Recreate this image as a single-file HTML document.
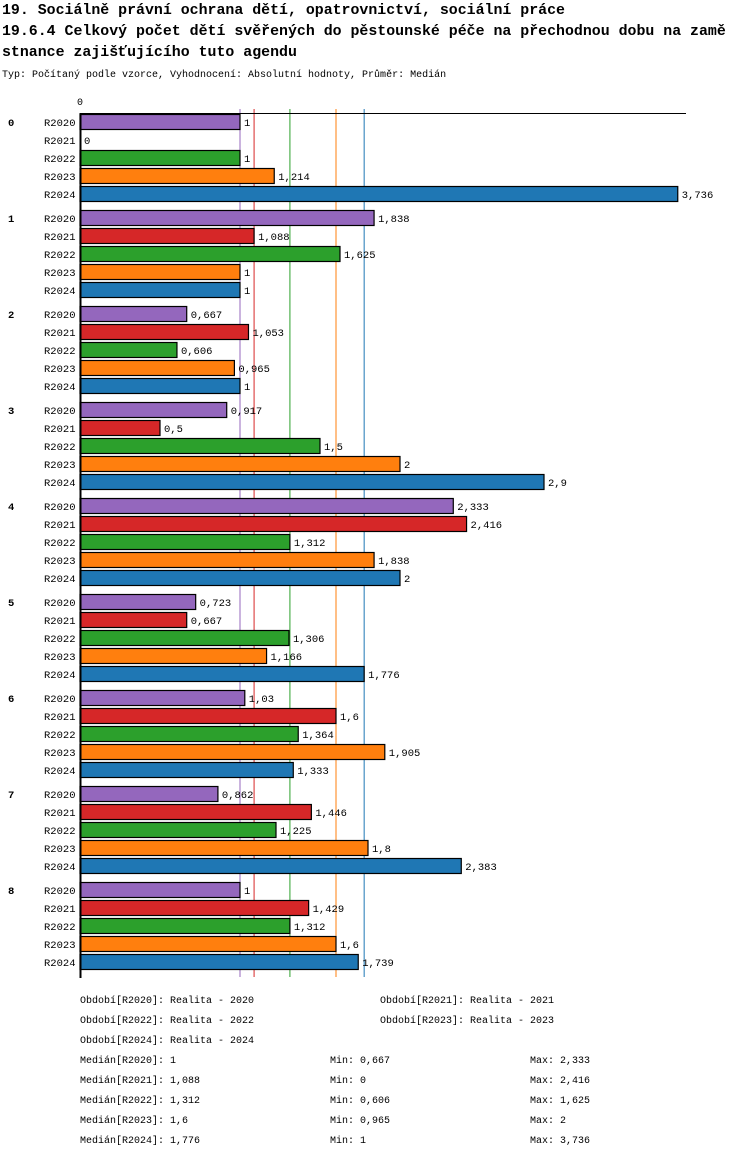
<!DOCTYPE html>
<html><head><meta charset="utf-8"><style>
body{margin:0;background:#fff;width:750px;height:1158px;overflow:hidden}
svg text{font-family:"Liberation Mono","DejaVu Sans Mono",monospace;fill:#000}
</style></head><body>
<svg id="chart" width="750" height="1158" xmlns="http://www.w3.org/2000/svg">
<text x="2" y="14" font-size="14.9" font-weight="bold">19. Sociálně právní ochrana dětí, opatrovnictví, sociální práce</text>
<text x="2" y="35" font-size="14.9" font-weight="bold">19.6.4 Celkový počet dětí svěřených do pěstounské péče na přechodnou dobu na zamě</text>
<text x="2" y="56" font-size="14.9" font-weight="bold">stnance zajišťujícího tuto agendu</text>
<text x="2" y="77" font-size="10">Typ: Počítaný podle vzorce, Vyhodnocení: Absolutní hodnoty, Průměr: Medián</text>
<g id="plot"></g>
<g id="legend"></g>
</svg>
<script>
const categories=["0","1","2","3","4","5","6","7","8"];
const seriesNames=["R2020","R2021","R2022","R2023","R2024"];
const colors=["#9467bd","#d62728","#2ca02c","#ff7f0e","#1f77b4"];
const r2020=[1,1.838,0.667,0.917,2.333,0.723,1.03,0.862,1];
const r2021=[0,1.088,1.053,0.5,2.416,0.667,1.6,1.446,1.429];
const r2022=[1,1.625,0.606,1.5,1.312,1.306,1.364,1.225,1.312];
const r2023=[1.214,1,0.965,2,1.838,1.166,1.905,1.8,1.6];
const r2024=[3.736,1,1,2.9,2,1.776,1.333,2.383,1.739];
const medians=[1,1.088,1.312,1.6,1.776];
const medianLabels=["1","1,088","1,312","1,6","1,776"];
const minLabels=["0,667","0","0,606","0,965","1"];
const maxLabels=["2,333","2,416","1,625","2","3,736"];
const periodLabels=["Realita - 2020","Realita - 2021","Realita - 2022","Realita - 2023","Realita - 2024"];
const series=[r2020,r2021,r2022,r2023,r2024];
const NS="http://www.w3.org/2000/svg";
const x0=80,pxPerUnit=160,groupTop=113,groupH=96,rowH=18;
const xs=v=>x0+v*pxPerUnit;
const rowY=(g,s)=>groupTop+g*groupH+s*rowH+9;
const fmt=v=>String(+v.toFixed(3)).replace('.',',');
const plot=document.getElementById('plot');
function mk(tag,attrs,parent){const e=document.createElementNS(NS,tag);for(const k in attrs)e.setAttribute(k,attrs[k]);parent.appendChild(e);return e;}
let t=mk('text',{x:xs(0)-3,y:105,'font-size':10},plot);t.textContent="0";


medians.forEach((m,i)=>{const l=mk('line',{x1:xs(m),x2:xs(m),y1:109,y2:977,stroke:colors[i],'stroke-width':1},plot);

});
let a=mk('line',{x1:80,x2:686,y1:113.5,y2:113.5,stroke:'#000'},plot);


categories.forEach((c,g)=>{
 const ct=mk('text',{x:8,y:rowY(g,0)+4,'font-size':10.5,'font-weight':'bold'},plot);ct.textContent=c;
 
 
 series.forEach((s,si)=>{
  const y=rowY(g,si);const v=s[g];
  const lt=mk('text',{x:44,y:y+4,'font-size':10.5},plot);lt.textContent=seriesNames[si];
  
  
  if(v>0){const r=mk('rect',{x:xs(0),y:y-7.5,width:xs(v)-xs(0),height:15,fill:colors[si],stroke:'#000','stroke-width':1.2},plot);
  
  }
  const vt=mk('text',{x:xs(v)+4,y:y+4,'font-size':10.5},plot);vt.textContent=fmt(v);
  
  
 });
});
let ya=mk('line',{x1:80.5,x2:80.5,y1:113,y2:978,stroke:'#000','stroke-width':2},plot);


const lg=document.getElementById('legend');
const ppos=[[80,1003],[380,1003],[80,1023],[380,1023],[80,1043]];
seriesNames.forEach((n,i)=>{
 const e=mk('text',{x:ppos[i][0],y:ppos[i][1],'font-size':10},lg);e.textContent="Období["+n+"]: "+periodLabels[i];
 
 
 const y=1063+i*20;
 const m=mk('text',{x:80,y:y,'font-size':10},lg);m.textContent="Medián["+n+"]: "+medianLabels[i];
 
 
 const mi=mk('text',{x:330,y:y,'font-size':10},lg);mi.textContent="Min: "+minLabels[i];
 
 
 const ma=mk('text',{x:530,y:y,'font-size':10},lg);ma.textContent="Max: "+maxLabels[i];
 
 
});
</script>
</body></html>
